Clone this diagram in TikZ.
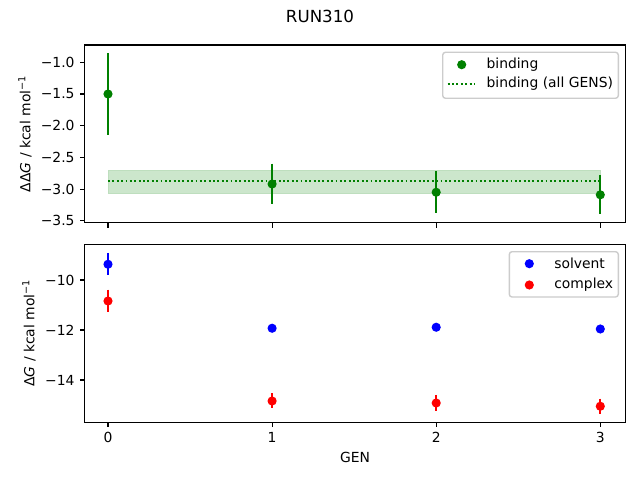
\documentclass[tikz,border=0pt]{standalone}
\usepackage{fontspec}
\setmainfont{DejaVu Sans}
\newfontfamily\obl{DejaVu Sans Oblique}
\definecolor{mgreen}{RGB}{0,128,0}
\definecolor{mband}{RGB}{204,230,204}
\definecolor{mbandedge}{RGB}{190,222,190}
\definecolor{mblue}{RGB}{0,0,255}
\definecolor{mred}{RGB}{255,0,0}
\definecolor{legedge}{RGB}{204,204,204}
\begin{document}
\begin{tikzpicture}[x=0.72pt,y=0.72pt,
  declare function={tx(\a)=108+164.1*\a; ta(\v)=481.1+63.4*\v; tb(\v)=450+25*\v;},
  spine/.style={draw=black,line width=0.8pt},
  tickmark/.style={line width=0.8pt},
  ticklab/.style={font=\fontsize{10}{12}\selectfont,inner sep=0pt},
  dotmark/.style={circle,fill=#1,inner sep=0pt,minimum size=6.6pt},
  errbar/.style={draw=#1,line width=1.5pt},
  dotline/.style={mgreen,line width=1.4pt,dash pattern=on 1.4pt off 1.75pt},
  legbox/.style={draw=legedge,fill=white,fill opacity=0.8,line width=1pt,rounded corners=2pt},
  legtext/.style={font=\fontsize{10}{12}\selectfont,anchor=west,inner sep=0pt},
  axlabel/.style={font=\fontsize{10}{12}\selectfont,inner sep=0pt}]
\useasboundingbox (0,0) rectangle (640,480);
\fill[white] (0,0) rectangle (640,480);

% title
\node[font=\fontsize{12}{14}\selectfont] (title) at (320,464) {RUN310};

% ===== top panel =====
\coordinate (bandA) at ({tx(0)},{ta(-2.70)});
\coordinate (bandB) at ({tx(3)},{ta(-3.07)});
\fill[mband,draw=mbandedge,line width=0.5pt] (bandA) rectangle (bandB);
\coordinate (lineA) at ({tx(0)},{ta(-2.87)});
\coordinate (lineB) at ({tx(3)},{ta(-2.87)});
\draw[dotline] (lineA) -- (lineB);

\foreach \i/\v/\e in {0/-1.50/0.64, 1/-2.92/0.32, 2/-3.05/0.33, 3/-3.09/0.31}{
  \coordinate (bt\i) at ({tx(\i)},{ta(\v+\e)});
  \coordinate (bb\i) at ({tx(\i)},{ta(\v-\e)});
  \draw[errbar=mgreen] (bt\i) -- (bb\i);
  \node[dotmark=mgreen] (b\i) at ({tx(\i)},{ta(\v)}) {};
}

\draw[spine] (84.5,257.3) rectangle (625.5,435);
\foreach \v/\l in {-1.0/−1.0,-1.5/−1.5,-2.0/−2.0,-2.5/−2.5,-3.0/−3.0,-3.5/−3.5}{
  \draw[tickmark] (84.5,{ta(\v)}) -- ++(-4.86,0);
  \node[ticklab,anchor=east] at (74.8,{ta(\v)}) {\l};
}
\foreach \i in {0,1,2,3}{
  \draw[tickmark] ({tx(\i)},257.3) -- ++(0,-4.86);
}
\node[axlabel,rotate=90] (ylA) at (25,346.2) {ΔΔ{\obl G} / kcal mol\textsuperscript{−1}};

% top legend
\draw[legbox] (442.7,381.7) rectangle (618.3,427.7);
\node[dotmark=mgreen] (lg1) at (461.7,415.3) {};
\node[legtext] (lt1) at (486.3,415.3) {binding};
\coordinate (lgA) at (447.7,396.3);
\coordinate (lgB) at (475,396.3);
\draw[dotline] (lgA) -- (lgB);
\node[legtext] (lt2) at (486.3,396.3) {binding (all GENS)};

% ===== bottom panel =====
\foreach \i/\v/\e in {0/-9.37/0.45, 1/-11.93/0.08, 2/-11.89/0.08, 3/-11.96/0.08}{
  \coordinate (st\i) at ({tx(\i)},{tb(\v+\e)});
  \coordinate (sb\i) at ({tx(\i)},{tb(\v-\e)});
  \draw[errbar=mblue] (st\i) -- (sb\i);
  \node[dotmark=mblue] (s\i) at ({tx(\i)},{tb(\v)}) {};
}
\foreach \i/\v/\e in {0/-10.84/0.45, 1/-14.84/0.30, 2/-14.92/0.32, 3/-15.05/0.30}{
  \coordinate (ct\i) at ({tx(\i)},{tb(\v+\e)});
  \coordinate (cb\i) at ({tx(\i)},{tb(\v-\e)});
  \draw[errbar=mred] (ct\i) -- (cb\i);
  \node[dotmark=mred] (c\i) at ({tx(\i)},{tb(\v)}) {};
}

\draw[spine] (84.5,57.7) rectangle (625.5,235.7);
\foreach \v/\l in {-10/−10,-12/−12,-14/−14}{
  \draw[tickmark] (84.5,{tb(\v)}) -- ++(-4.86,0);
  \node[ticklab,anchor=east] at (74.8,{tb(\v)}) {\l};
}
\foreach \i in {0,1,2,3}{
  \draw[tickmark] ({tx(\i)},57.7) -- ++(0,-4.86);
  \node[ticklab,anchor=north] at ({tx(\i)},48) {\i};
}
\node[axlabel,rotate=90] (ylB) at (29,147) {Δ{\obl G} / kcal mol\textsuperscript{−1}};
\node[axlabel] (xl) at (355,22.3) {GEN};

% bottom legend
\draw[legbox] (509.3,183) rectangle (618.3,228.3);
\node[dotmark=mblue] (lg3) at (529.3,216.3) {};
\node[legtext] (lt3) at (554,216.3) {solvent};
\node[dotmark=mred] (lg4) at (529.3,195) {};
\node[legtext] (lt4) at (554,195) {complex};
\end{tikzpicture}
\end{document}
